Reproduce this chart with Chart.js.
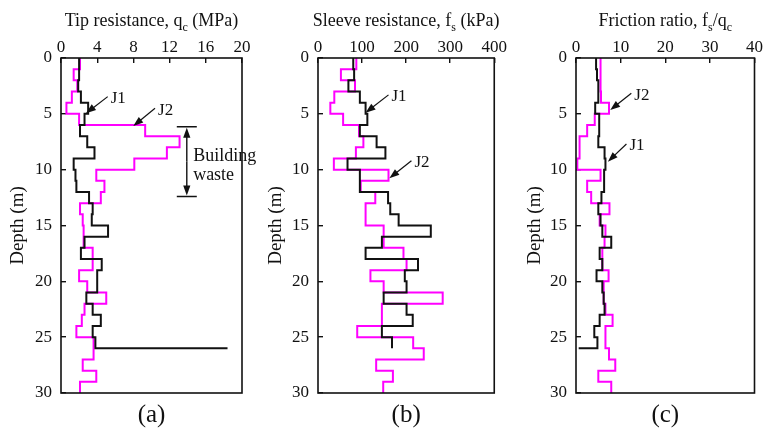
<!DOCTYPE html>
<html>
<head>
<meta charset="utf-8">
<script src="https://cdn.jsdelivr.net/npm/chart.js@4.4.1/dist/chart.umd.min.js"></script>
<style>
  body { margin: 0; background: #fff; }
  #wrap { position: relative; width: 768px; height: 430px; background: #fff; }
  #wrap canvas { position: absolute; top: 0; }
</style>
</head>
<body>
<div id="wrap">
  <canvas id="cA" width="256" height="430" style="left:0px"></canvas>
  <canvas id="cB" width="256" height="430" style="left:256px"></canvas>
  <canvas id="cC" width="256" height="430" style="left:512px"></canvas>
</div>
<script>
// layer tops (m), one reading per metre
const depthTops = [0,1,2,3,4,5,6,7,8,9,10,11,12,13,14,15,16,17,18,19,20,21,22,23,24,25,26,27,28,29];
const depthTicks = [0, 5, 10, 15, 20, 25, 30];
const j1Bottom = 26;   // J1 stops at 26 m
const j2Bottom = 30;

// (a) tip resistance qc, MPa
const qcJ1 = [2.0,2.0,1.9,2.2,3.0,2.6,2.1,2.9,3.7,1.4,1.6,1.7,3.1,3.5,3.4,5.2,2.6,2.2,4.5,4.0,4.0,2.8,3.5,4.4,3.5,3.8];
const qcJ1Refusal = 18.4;
const qcJ2 = [2.1,1.4,1.8,1.2,0.6,2.0,9.3,13.1,11.7,8.1,3.9,4.8,4.4,2.1,2.4,2.5,2.5,3.5,3.5,2.0,2.9,5.0,2.6,2.3,1.7,3.6,3.6,2.4,3.9,2.1];

// (b) sleeve resistance fs, kPa
const fsJ1 = [80,82,69,95,108,112,95,133,153,67,95,95,159,164,183,256,145,108,227,197,201,149,201,215,145,168];
const fsJ2 = [87,52,84,37,28,57,93,103,86,36,160,97,130,108,108,149,149,194,201,119,149,283,145,145,89,216,240,132,170,148];

// (c) friction ratio fs/qc
const rfJ1 = [4.5,4.7,5.0,5.0,4.3,5.2,5.2,5.0,6.4,6.6,6.3,6.3,5.7,5.0,5.5,5.9,7.9,5.3,5.9,4.6,5.9,6.2,6.4,5.3,4.1,4.8];
const rfJ1Refusal = 0.6;
const rfJ2 = [5.5,5.5,5.5,5.6,7.4,4.2,2.5,0.8,0.8,0.3,5.5,2.5,3.4,7.5,5.3,6.6,6.4,5.9,5.9,7.3,6.2,6.2,6.6,8.2,6.6,6.6,7.4,8.8,5.0,7.9];

const SERIF = "'Liberation Serif', 'Times New Roman', serif";

function profile(values, bottom, tail) {
  const pts = values.map((v, i) => ({ x: v, y: depthTops[i] }));
  pts.push({ x: values[values.length - 1], y: bottom });
  if (tail !== undefined) pts.push({ x: tail, y: bottom });
  return pts;
}

function drawRich(ctx, parts, cx, baseY, size) {
  let w = 0;
  parts.forEach(p => {
    ctx.font = `${p.sub ? Math.round(size * 0.68) : size}px ${SERIF}`;
    p.w = ctx.measureText(p.t).width;
    w += p.w;
  });
  let x = cx - w / 2;
  ctx.textAlign = 'left';
  ctx.textBaseline = 'alphabetic';
  parts.forEach(p => {
    ctx.font = `${p.sub ? Math.round(size * 0.68) : size}px ${SERIF}`;
    ctx.fillText(p.t, x, baseY + (p.sub ? size * 0.28 : 0));
    x += p.w;
  });
}

function arrow(ctx, x1, y1, x2, y2) {
  const a = Math.atan2(y2 - y1, x2 - x1);
  const hl = 10, hw = 3.6;
  ctx.beginPath();
  ctx.moveTo(x1, y1);
  ctx.lineTo(x2 - Math.cos(a) * hl * 0.8, y2 - Math.sin(a) * hl * 0.8);
  ctx.stroke();
  ctx.beginPath();
  ctx.moveTo(x2, y2);
  ctx.lineTo(x2 - Math.cos(a) * hl - Math.sin(a) * hw, y2 - Math.sin(a) * hl + Math.cos(a) * hw);
  ctx.lineTo(x2 - Math.cos(a) * hl + Math.sin(a) * hw, y2 - Math.sin(a) * hl - Math.cos(a) * hw);
  ctx.closePath();
  ctx.fill();
}

// frame, panel titles, arrows and notes
const panelDecor = {
  id: 'panelDecor',
  afterDraw(chart, args, o) {
    const { ctx, chartArea: ca, scales: { x, y } } = chart;
    ctx.save();
    ctx.strokeStyle = '#111';
    ctx.lineWidth = 1.6;
    ctx.strokeRect(ca.left, ca.top, ca.right - ca.left, ca.bottom - ca.top);

    ctx.fillStyle = '#111';
    const cx = (ca.left + ca.right) / 2;
    drawRich(ctx, o.title, cx, 26, 18);
    ctx.font = `25px ${SERIF}`;
    ctx.textAlign = 'center';
    ctx.textBaseline = 'middle';
    ctx.fillText(o.tag, cx, 415);

    ctx.lineWidth = 1.2;
    ctx.font = `17px ${SERIF}`;
    (o.arrows || []).forEach(a => {
      const tx = x.getPixelForValue(a.tail[0]), ty = y.getPixelForValue(a.tail[1]);
      arrow(ctx, tx, ty, x.getPixelForValue(a.head[0]), y.getPixelForValue(a.head[1]));
      ctx.textAlign = 'left';
      ctx.textBaseline = 'middle';
      ctx.fillText(a.label, tx + 3, ty + 2);
    });

    if (o.range) {
      const r = o.range;
      const rx = x.getPixelForValue(r.x);
      const y1 = y.getPixelForValue(r.from), y2 = y.getPixelForValue(r.to);
      ctx.lineWidth = 1.4;
      ctx.beginPath();
      ctx.moveTo(rx - 10, y1); ctx.lineTo(rx + 10, y1);
      ctx.moveTo(rx - 10, y2); ctx.lineTo(rx + 10, y2);
      ctx.stroke();
      arrow(ctx, rx, (y1 + y2) / 2, rx, y1 + 1);
      arrow(ctx, rx, (y1 + y2) / 2, rx, y2 - 1);
      ctx.font = `18px ${SERIF}`;
      ctx.textAlign = 'left';
      ctx.textBaseline = 'middle';
      r.text.forEach((t, i) => {
        ctx.fillText(t, x.getPixelForValue(r.textX), y.getPixelForValue(r.textY[i]));
      });
    }
    ctx.restore();
  }
};

function makePanel(id, opt) {
  const tickFont = { family: SERIF, size: 17 };
  return new Chart(document.getElementById(id), {
    type: 'line',
    data: {
      datasets: [
        { label: 'J1', data: opt.j1, borderColor: '#111', borderWidth: 2, stepped: 'after', pointRadius: 0, fill: false },
        { label: 'J2', data: opt.j2, borderColor: '#ff00ff', borderWidth: 2, stepped: 'after', pointRadius: 0, fill: false }
      ]
    },
    plugins: [panelDecor],
    options: {
      responsive: false,
      animation: false,
      layout: { padding: { left: 0, right: opt.padRight, top: 0, bottom: 37 } },
      plugins: {
        legend: { display: false },
        tooltip: { enabled: false },
        panelDecor: { title: opt.title, tag: opt.tag, arrows: opt.arrows, range: opt.range }
      },
      scales: {
        x: {
          type: 'linear', position: 'top', min: 0, max: opt.xMax,
          ticks: { stepSize: opt.xStep, color: '#111', font: tickFont, padding: 5, maxRotation: 0 },
          grid: { drawOnChartArea: false, drawTicks: true, tickLength: -5, color: '#111', lineWidth: 1.4 },
          border: { display: false },
          afterFit: s => { s.height = 58; }
        },
        y: {
          type: 'linear', reverse: true, min: 0, max: 30,
          afterBuildTicks: s => { s.ticks = depthTicks.map(v => ({ value: v })); },
          ticks: { color: '#111', font: tickFont, padding: 14 },
          grid: { drawOnChartArea: false, drawTicks: true, tickLength: -5, color: '#111', lineWidth: 1.4 },
          border: { display: false },
          title: { display: true, text: 'Depth (m)', color: '#111', font: { family: SERIF, size: 19 }, padding: { top: opt.yTitlePad, bottom: 0 } },
          afterFit: s => { s.width = opt.yWidth; }
        }
      }
    }
  });
}

makePanel('cA', {
  j1: profile(qcJ1, j1Bottom, qcJ1Refusal), j2: profile(qcJ2, j2Bottom),
  xMax: 20, xStep: 4, yWidth: 61, padRight: 14, yTitlePad: 7, tag: '(a)',
  title: [{ t: 'Tip resistance, q' }, { t: 'c', sub: true }, { t: ' (MPa)' }],
  arrows: [
    { label: 'J1', tail: [5.16, 3.46], head: [2.76, 4.95] },
    { label: 'J2', tail: [10.39, 4.5], head: [7.99, 6.09] }
  ],
  range: { x: 13.9, from: 6.15, to: 12.4, text: ['Building', 'waste'], textX: 14.6, textY: [8.8, 10.5] }
});

makePanel('cB', {
  j1: profile(fsJ1, j1Bottom), j2: profile(fsJ2, j2Bottom),
  xMax: 400, xStep: 100, yWidth: 62, padRight: 15, yTitlePad: 9, tag: '(b)',
  title: [{ t: 'Sleeve resistance, f' }, { t: 's', sub: true }, { t: ' (kPa)' }],
  arrows: [
    { label: 'J1', tail: [160, 3.3], head: [108, 4.9] },
    { label: 'J2', tail: [212, 9.2], head: [162, 10.77] }
  ]
});

makePanel('cC', {
  j1: profile(rfJ1, j1Bottom, rfJ1Refusal), j2: profile(rfJ2, j2Bottom),
  xMax: 40, xStep: 10, yWidth: 64, padRight: 10, yTitlePad: 12, tag: '(c)',
  title: [{ t: 'Friction ratio, f' }, { t: 's', sub: true }, { t: '/q' }, { t: 'c', sub: true }],
  arrows: [
    { label: 'J2', tail: [12.4, 3.16], head: [7.67, 4.66] },
    { label: 'J1', tail: [11.3, 7.7], head: [7.14, 9.28] }
  ]
});
</script>
</body>
</html>
